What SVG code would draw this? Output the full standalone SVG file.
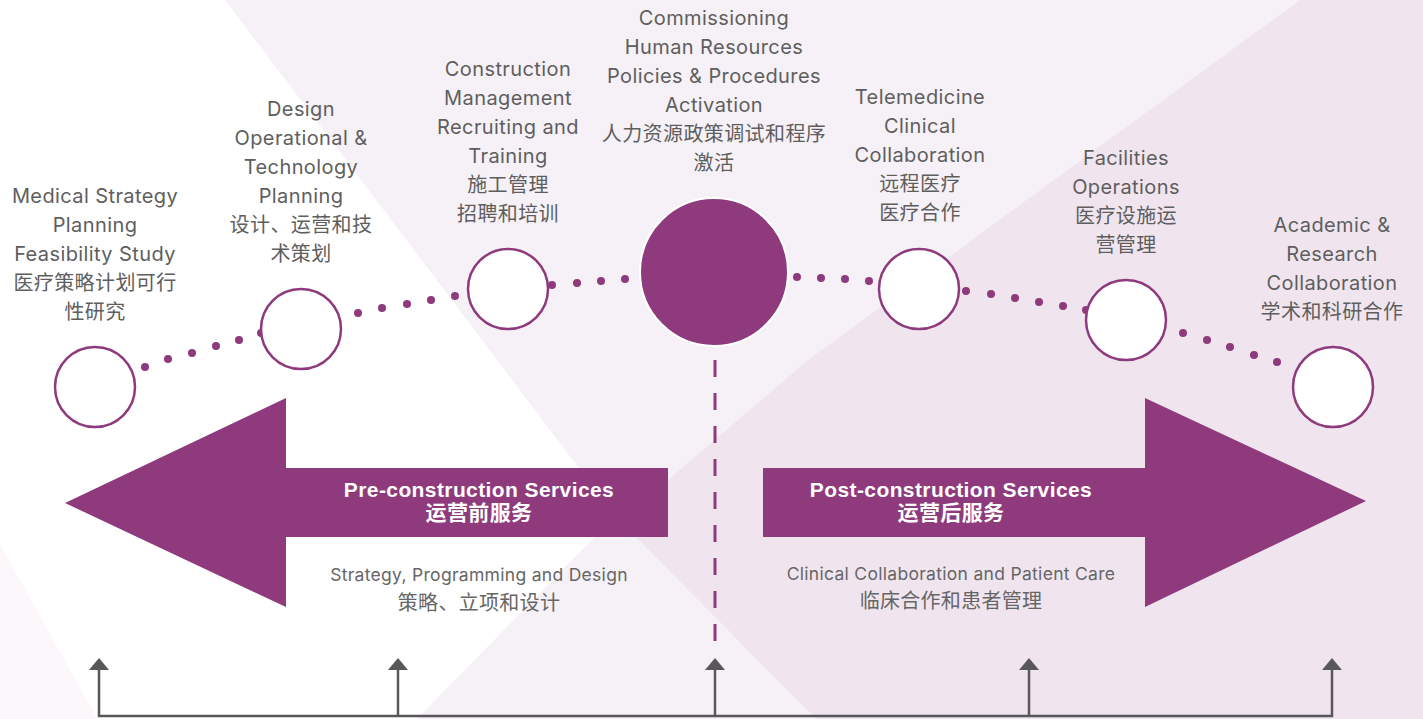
<svg xmlns="http://www.w3.org/2000/svg" width="1423" height="719" viewBox="0 0 1423 719">
<defs>
<style>
.lbl{font-family:Inter,"Noto Sans CJK SC",sans-serif;font-size:20px;letter-spacing:0.4px;fill:#5e5e5e;text-anchor:middle}
.sub{font-family:Inter,"Noto Sans CJK SC",sans-serif;font-size:17.5px;letter-spacing:0.3px;fill:#666666;text-anchor:middle}
.cjk{font-size:20px}
.big{font-family:"Liberation Sans","Noto Sans CJK SC",sans-serif;font-weight:bold;font-size:21px;letter-spacing:0.4px;fill:#ffffff;text-anchor:middle}
.node{fill:#ffffff;stroke:#8e3a7d;stroke-width:2.5}
.dot{fill:#8e3a7d}
.conn{stroke:#58585a;stroke-width:2.5;fill:none}
.head{fill:#58585a}
</style>
</defs>
<g id="background">
<rect x="0" y="0" width="1423" height="719" fill="#f6f1f6"/>
<polygon points="0,0 225,0 615,516 417,719 97,719 0,545" fill="#ffffff"/>
<polygon points="0,545 97,719 0,719" fill="#fcf7fb"/>
<polygon points="1300,0 1423,0 1423,719 816,719 615,516 668,480 808,360" fill="#f0e5ef"/>
</g>
<g id="connectors">
<g class="dot">
<circle cx="145" cy="367" r="4"/><circle cx="168" cy="359" r="4"/><circle cx="192" cy="353" r="4"/><circle cx="216" cy="346" r="4"/><circle cx="239" cy="340" r="4"/><circle cx="261" cy="333" r="4"/>
<circle cx="358" cy="313" r="4"/><circle cx="382" cy="308" r="4"/><circle cx="407" cy="304" r="4"/><circle cx="431" cy="300" r="4"/><circle cx="455" cy="296" r="4"/>
<circle cx="552" cy="285" r="4"/><circle cx="577" cy="283" r="4"/><circle cx="601" cy="281" r="4"/><circle cx="625" cy="279" r="4"/>
<circle cx="797" cy="277" r="4"/><circle cx="821" cy="278" r="4"/><circle cx="845" cy="279" r="4"/><circle cx="869" cy="281" r="4"/>
<circle cx="966" cy="291" r="4"/><circle cx="991" cy="294" r="4"/><circle cx="1015" cy="298" r="4"/><circle cx="1039" cy="302" r="4"/><circle cx="1063" cy="306" r="4"/><circle cx="1086" cy="310" r="4"/>
<circle cx="1183" cy="333" r="4"/><circle cx="1207" cy="340" r="4"/><circle cx="1230" cy="347" r="4"/><circle cx="1254" cy="355" r="4"/><circle cx="1277" cy="362" r="4"/>
</g>
<line x1="715" y1="360" x2="715" y2="645" stroke="#8e3a7d" stroke-width="3" stroke-dasharray="17 16"/>
<polyline class="conn" points="99,669 99,716 1332,716 1332,669"/>
<line class="conn" x1="398" y1="716" x2="398" y2="669"/>
<line class="conn" x1="715" y1="716" x2="715" y2="669"/>
<line class="conn" x1="1029" y1="716" x2="1029" y2="669"/>
<polygon class="head" points="99,658 89,670 109,670"/>
<polygon class="head" points="398,658 388,670 408,670"/>
<polygon class="head" points="715,658 705,670 725,670"/>
<polygon class="head" points="1029,658 1019,670 1039,670"/>
<polygon class="head" points="1332,658 1322,670 1342,670"/>
</g>
<g id="pre-construction">
<polygon points="65,503 286,398 286,468 668,468 668,537 286,537 286,607" fill="#8e3a7d"/>
<text class="big" x="479" y="497">Pre-construction Services</text>
<text class="big" x="479" y="520">运营前服务</text>
<text class="sub" x="479" y="581">Strategy, Programming and Design</text>
<text class="sub cjk" x="479" y="610">策略、立项和设计</text>
</g>
<g id="post-construction">
<polygon points="763,468 1145,468 1145,398 1366,501 1145,607 1145,537 763,537" fill="#8e3a7d"/>
<text class="big" x="951" y="497">Post-construction Services</text>
<text class="big" x="951" y="520">运营后服务</text>
<text class="sub" x="951" y="580">Clinical Collaboration and Patient Care</text>
<text class="sub cjk" x="951" y="608">临床合作和患者管理</text>
</g>
<g id="node1">
<circle class="node" cx="95" cy="387" r="40"/>
<text class="lbl" x="95" y="203">Medical Strategy</text>
<text class="lbl" x="95" y="232">Planning</text>
<text class="lbl" x="95" y="261">Feasibility Study</text>
<text class="lbl" x="95" y="290">医疗策略计划可行</text>
<text class="lbl" x="95" y="319">性研究</text>
</g>
<g id="node2">
<circle class="node" cx="301" cy="329" r="40"/>
<text class="lbl" x="301" y="116">Design</text>
<text class="lbl" x="301" y="145">Operational &amp;</text>
<text class="lbl" x="301" y="174">Technology</text>
<text class="lbl" x="301" y="203">Planning</text>
<text class="lbl" x="301" y="232">设计、运营和技</text>
<text class="lbl" x="301" y="261">术策划</text>
</g>
<g id="node3">
<circle class="node" cx="508" cy="289" r="40"/>
<text class="lbl" x="508" y="76">Construction</text>
<text class="lbl" x="508" y="105">Management</text>
<text class="lbl" x="508" y="134">Recruiting and</text>
<text class="lbl" x="508" y="163">Training</text>
<text class="lbl" x="508" y="192">施工管理</text>
<text class="lbl" x="508" y="221">招聘和培训</text>
</g>
<g id="node4">
<circle cx="714" cy="272" r="74" fill="#8e3a7d" stroke="#ffffff" stroke-width="2"/>
<text class="lbl" x="714" y="25">Commissioning</text>
<text class="lbl" x="714" y="54">Human Resources</text>
<text class="lbl" x="714" y="83">Policies &amp; Procedures</text>
<text class="lbl" x="714" y="112">Activation</text>
<text class="lbl" x="714" y="141">人力资源政策调试和程序</text>
<text class="lbl" x="714" y="170">激活</text>
</g>
<g id="node5">
<circle class="node" cx="919" cy="289" r="40"/>
<text class="lbl" x="920" y="104">Telemedicine</text>
<text class="lbl" x="920" y="133">Clinical</text>
<text class="lbl" x="920" y="162">Collaboration</text>
<text class="lbl" x="920" y="191">远程医疗</text>
<text class="lbl" x="920" y="220">医疗合作</text>
</g>
<g id="node6">
<circle class="node" cx="1126" cy="320" r="40"/>
<text class="lbl" x="1126" y="165">Facilities</text>
<text class="lbl" x="1126" y="194">Operations</text>
<text class="lbl" x="1126" y="223">医疗设施运</text>
<text class="lbl" x="1126" y="252">营管理</text>
</g>
<g id="node7">
<circle class="node" cx="1333" cy="387" r="40"/>
<text class="lbl" x="1332" y="232">Academic &amp;</text>
<text class="lbl" x="1332" y="261">Research</text>
<text class="lbl" x="1332" y="290">Collaboration</text>
<text class="lbl" x="1332" y="319">学术和科研合作</text>
</g>
</svg>
